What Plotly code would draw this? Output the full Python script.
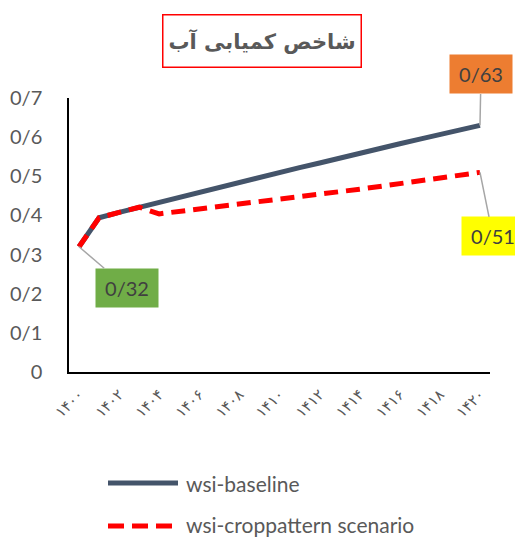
import plotly.graph_objects as go

years = list(range(1400, 1421))
baseline = [0.32, 0.394, 0.408, 0.421, 0.433, 0.446, 0.458, 0.471, 0.484, 0.496, 0.509,
            0.522, 0.534, 0.547, 0.559, 0.571, 0.583, 0.595, 0.607, 0.619, 0.63]
croppattern = [0.32, 0.394, 0.408, 0.421, 0.404, 0.410, 0.416, 0.422, 0.428, 0.435, 0.441,
               0.448, 0.454, 0.460, 0.467, 0.474, 0.481, 0.488, 0.495, 0.502, 0.51]
x_tickvals = [1400, 1402, 1404, 1406, 1408, 1410, 1412, 1414, 1416, 1418, 1420]
x_ticktext = ["۱۴۰۰", "۱۴۰۲", "۱۴۰۴", "۱۴۰۶", "۱۴۰۸", "۱۴۱۰", "۱۴۱۲", "۱۴۱۴", "۱۴۱۶", "۱۴۱۸", "۱۴۲۰"]
y_tickvals = [0, 0.1, 0.2, 0.3, 0.4, 0.5, 0.6, 0.7]
y_ticktext = ["0", "0/1", "0/2", "0/3", "0/4", "0/5", "0/6", "0/7"]
series_names = ["wsi-baseline", "wsi-croppattern scenario"]
title_text = "شاخص کمیابی آب"

BLUE = "#44546A"
RED = "#FF0000"
GRAY = "#595959"
FONT = "Lato, DejaVu Sans, sans-serif"

OFF = 8  # page body margin
W, H = 523 - OFF, 538 - OFF
L, R, T, B = 69 - OFF, 33, 98 - OFF, 166
PW, PH = W - L - R, H - T - B


def px(x):
    return (x - OFF - L) / PW


def py(y):
    return (H - B - (y - OFF)) / PH


fig = go.Figure()
fig.add_trace(go.Scatter(x=years, y=baseline, mode="lines", name=series_names[0],
                         line=dict(color=BLUE, width=5)))
fig.add_trace(go.Scatter(x=years, y=croppattern, mode="lines", name=series_names[1],
                         line=dict(color=RED, width=5, dash="14px,8px")))

fig.update_layout(
    width=W, height=H,
    margin=dict(l=L, r=R, t=T, b=B, autoexpand=False),
    paper_bgcolor="white", plot_bgcolor="white",
    showlegend=False,
    font=dict(family=FONT, color=GRAY),
)
fig.update_xaxes(range=[1399.5, 1420.5], tickvals=x_tickvals, ticktext=x_ticktext,
                 tickangle=-45, showgrid=False, zeroline=False, showline=True,
                 linecolor="black", linewidth=1.5, ticks="", ticklabelstandoff=6,
                 automargin=False,
                 tickfont=dict(size=15, color=GRAY, family="DejaVu Sans"))
fig.update_yaxes(range=[0, 0.7], tickvals=y_tickvals, ticktext=y_ticktext,
                 showgrid=False, zeroline=False, showline=True, linecolor="black",
                 linewidth=1.5, ticks="", ticklabelstandoff=21, automargin=False,
                 tickfont=dict(size=20, color=GRAY, family=FONT))

# title box
fig.add_annotation(xref="paper", yref="paper", x=px(262), y=py(41), text="<b>" + title_text + "</b>",
                   showarrow=False, font=dict(size=21, color=GRAY, family="DejaVu Sans"),
                   bordercolor=RED, borderwidth=1.5, width=187, height=41, borderpad=5,
                   bgcolor="white", xanchor="center", yanchor="middle")

# data labels
labels = [
    (years[0], baseline[0], "0/32", "#70AD47", 48, 41),
    (years[-1], baseline[-1], "0/63", "#ED7D31", 1, -51),
    (years[-1], croppattern[-1], "0/51", "#FFFF00", 13, 64),
]
for xv, yv, txt, bg, ax, ay in labels:
    fig.add_annotation(x=xv, y=yv, xref="x", yref="y", text=txt, showarrow=True,
                       arrowhead=0, arrowcolor="#A6A6A6", arrowwidth=1.5, ax=ax, ay=ay,
                       bgcolor=bg, width=52, height=28, borderpad=5,
                       font=dict(size=20, color="#404040", family=FONT))

# custom legend
fig.add_shape(type="line", xref="paper", yref="paper", x0=px(108), x1=px(178), y0=py(483), y1=py(483),
              line=dict(color=BLUE, width=5))
fig.add_shape(type="line", xref="paper", yref="paper", x0=px(108), x1=px(172), y0=py(526), y1=py(526),
              line=dict(color=RED, width=5, dash="16px,8px"))
fig.add_annotation(xref="paper", yref="paper", x=px(184), y=py(483), text=series_names[0],
                   showarrow=False, xanchor="left", yanchor="middle",
                   font=dict(size=21, color=GRAY, family=FONT))
fig.add_annotation(xref="paper", yref="paper", x=px(184), y=py(524), text=series_names[1],
                   showarrow=False, xanchor="left", yanchor="middle",
                   font=dict(size=21, color=GRAY, family=FONT))

fig.write_html("out.html")
